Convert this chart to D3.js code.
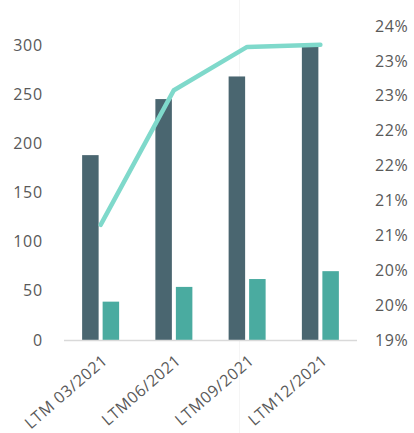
<!DOCTYPE html>
<html><head><meta charset="utf-8">
<script src="https://cdn.jsdelivr.net/npm/d3@7"></script>
<style>
html,body{margin:0;padding:0;background:#fff;}
text{font-family:"Open Sans",sans-serif;fill:#595959;}
</style></head>
<body>
<svg id="c" width="414" height="433"></svg>
<script>
const categories = ["LTM 03/2021","LTM06/2021","LTM09/2021","LTM12/2021"];
const darkValues = [188, 245, 268, 301];
const tealValues = [39, 54, 62, 70];
const pctValues = [20.65, 22.58, 23.2, 23.23];
const leftTicks = [0, 50, 100, 150, 200, 250, 300];
const rightTicks = [19, 19.5, 20, 20.5, 21, 21.5, 22, 22.5, 23, 23.5];

const svg = d3.select("#c");
const x0 = 64, x1 = 357, yBase = 340;
const x = d3.scaleBand().domain(categories).range([x0, x1]);
const yL = d3.scaleLinear().domain([0, 300]).range([yBase, 45]);
const yR = d3.scaleLinear().domain([19, 23.5]).range([yBase, 26]);

// faint vertical artifact line
svg.append("line").attr("x1",239.5).attr("x2",239.5).attr("y1",0).attr("y2",433)
  .attr("stroke","#f5f5f5").attr("stroke-width",1);

const bw = 16.5, gap = 4;
const g = svg.append("g");
g.selectAll(".d").data(darkValues).join("rect")
  .attr("x",(d,i)=>x(categories[i])+x.bandwidth()/2 - gap/2 - bw)
  .attr("y",d=>yL(d)).attr("width",bw).attr("height",d=>yBase-yL(d))
  .attr("fill","#4a6670");
g.selectAll(".t").data(tealValues).join("rect")
  .attr("x",(d,i)=>x(categories[i])+x.bandwidth()/2 + gap/2)
  .attr("y",d=>yL(d)).attr("width",bw).attr("height",d=>yBase-yL(d))
  .attr("fill","#4aaba0");

// baseline
svg.append("line").attr("x1",x0).attr("x2",x1).attr("y1",yBase+0.5).attr("y2",yBase+0.5)
  .attr("stroke","#d9d9d9").attr("stroke-width",1.5);

// line
const line = d3.line().x((d,i)=>x(categories[i])+x.bandwidth()/2).y(d=>yR(d));
svg.append("path").datum(pctValues).attr("d",line)
  .attr("fill","none").attr("stroke","#7fd9cb").attr("stroke-width",4.5)
  .attr("stroke-linecap","round").attr("stroke-linejoin","round");

// left axis
const axL = d3.axisLeft(yL).tickValues(leftTicks).tickSize(0).tickPadding(0);
const gl = svg.append("g").attr("transform","translate(43,0)").call(axL);
gl.select(".domain").remove();
gl.selectAll("text").style("font-size","16px").style("letter-spacing","0.8px")
  .attr("fill","#595959").attr("font-family",null);

// right axis
const axR = d3.axisRight(yR).tickValues(rightTicks).tickSize(0).tickPadding(0)
  .tickFormat(d=>Math.floor(d+0.5)+"%");
const gr = svg.append("g").attr("transform","translate(375,0)").call(axR);
gr.select(".domain").remove();
gr.selectAll("text").style("font-size","16px").style("letter-spacing","0.6px")
  .attr("fill","#595959").attr("font-family",null);

// x labels
const axX = d3.axisBottom(x).tickSize(0).tickPadding(0);
const gx = svg.append("g").attr("transform",`translate(0,${yBase})`).call(axX);
gx.select(".domain").remove();
gx.selectAll("text")
  .style("font-size","16px").style("letter-spacing","0.6px")
  .attr("fill","#595959").attr("font-family",null)
  .attr("text-anchor","end").attr("dy",null).attr("y",0)
  .attr("transform","translate(8,22) rotate(-41)");
</script>
</body></html>
